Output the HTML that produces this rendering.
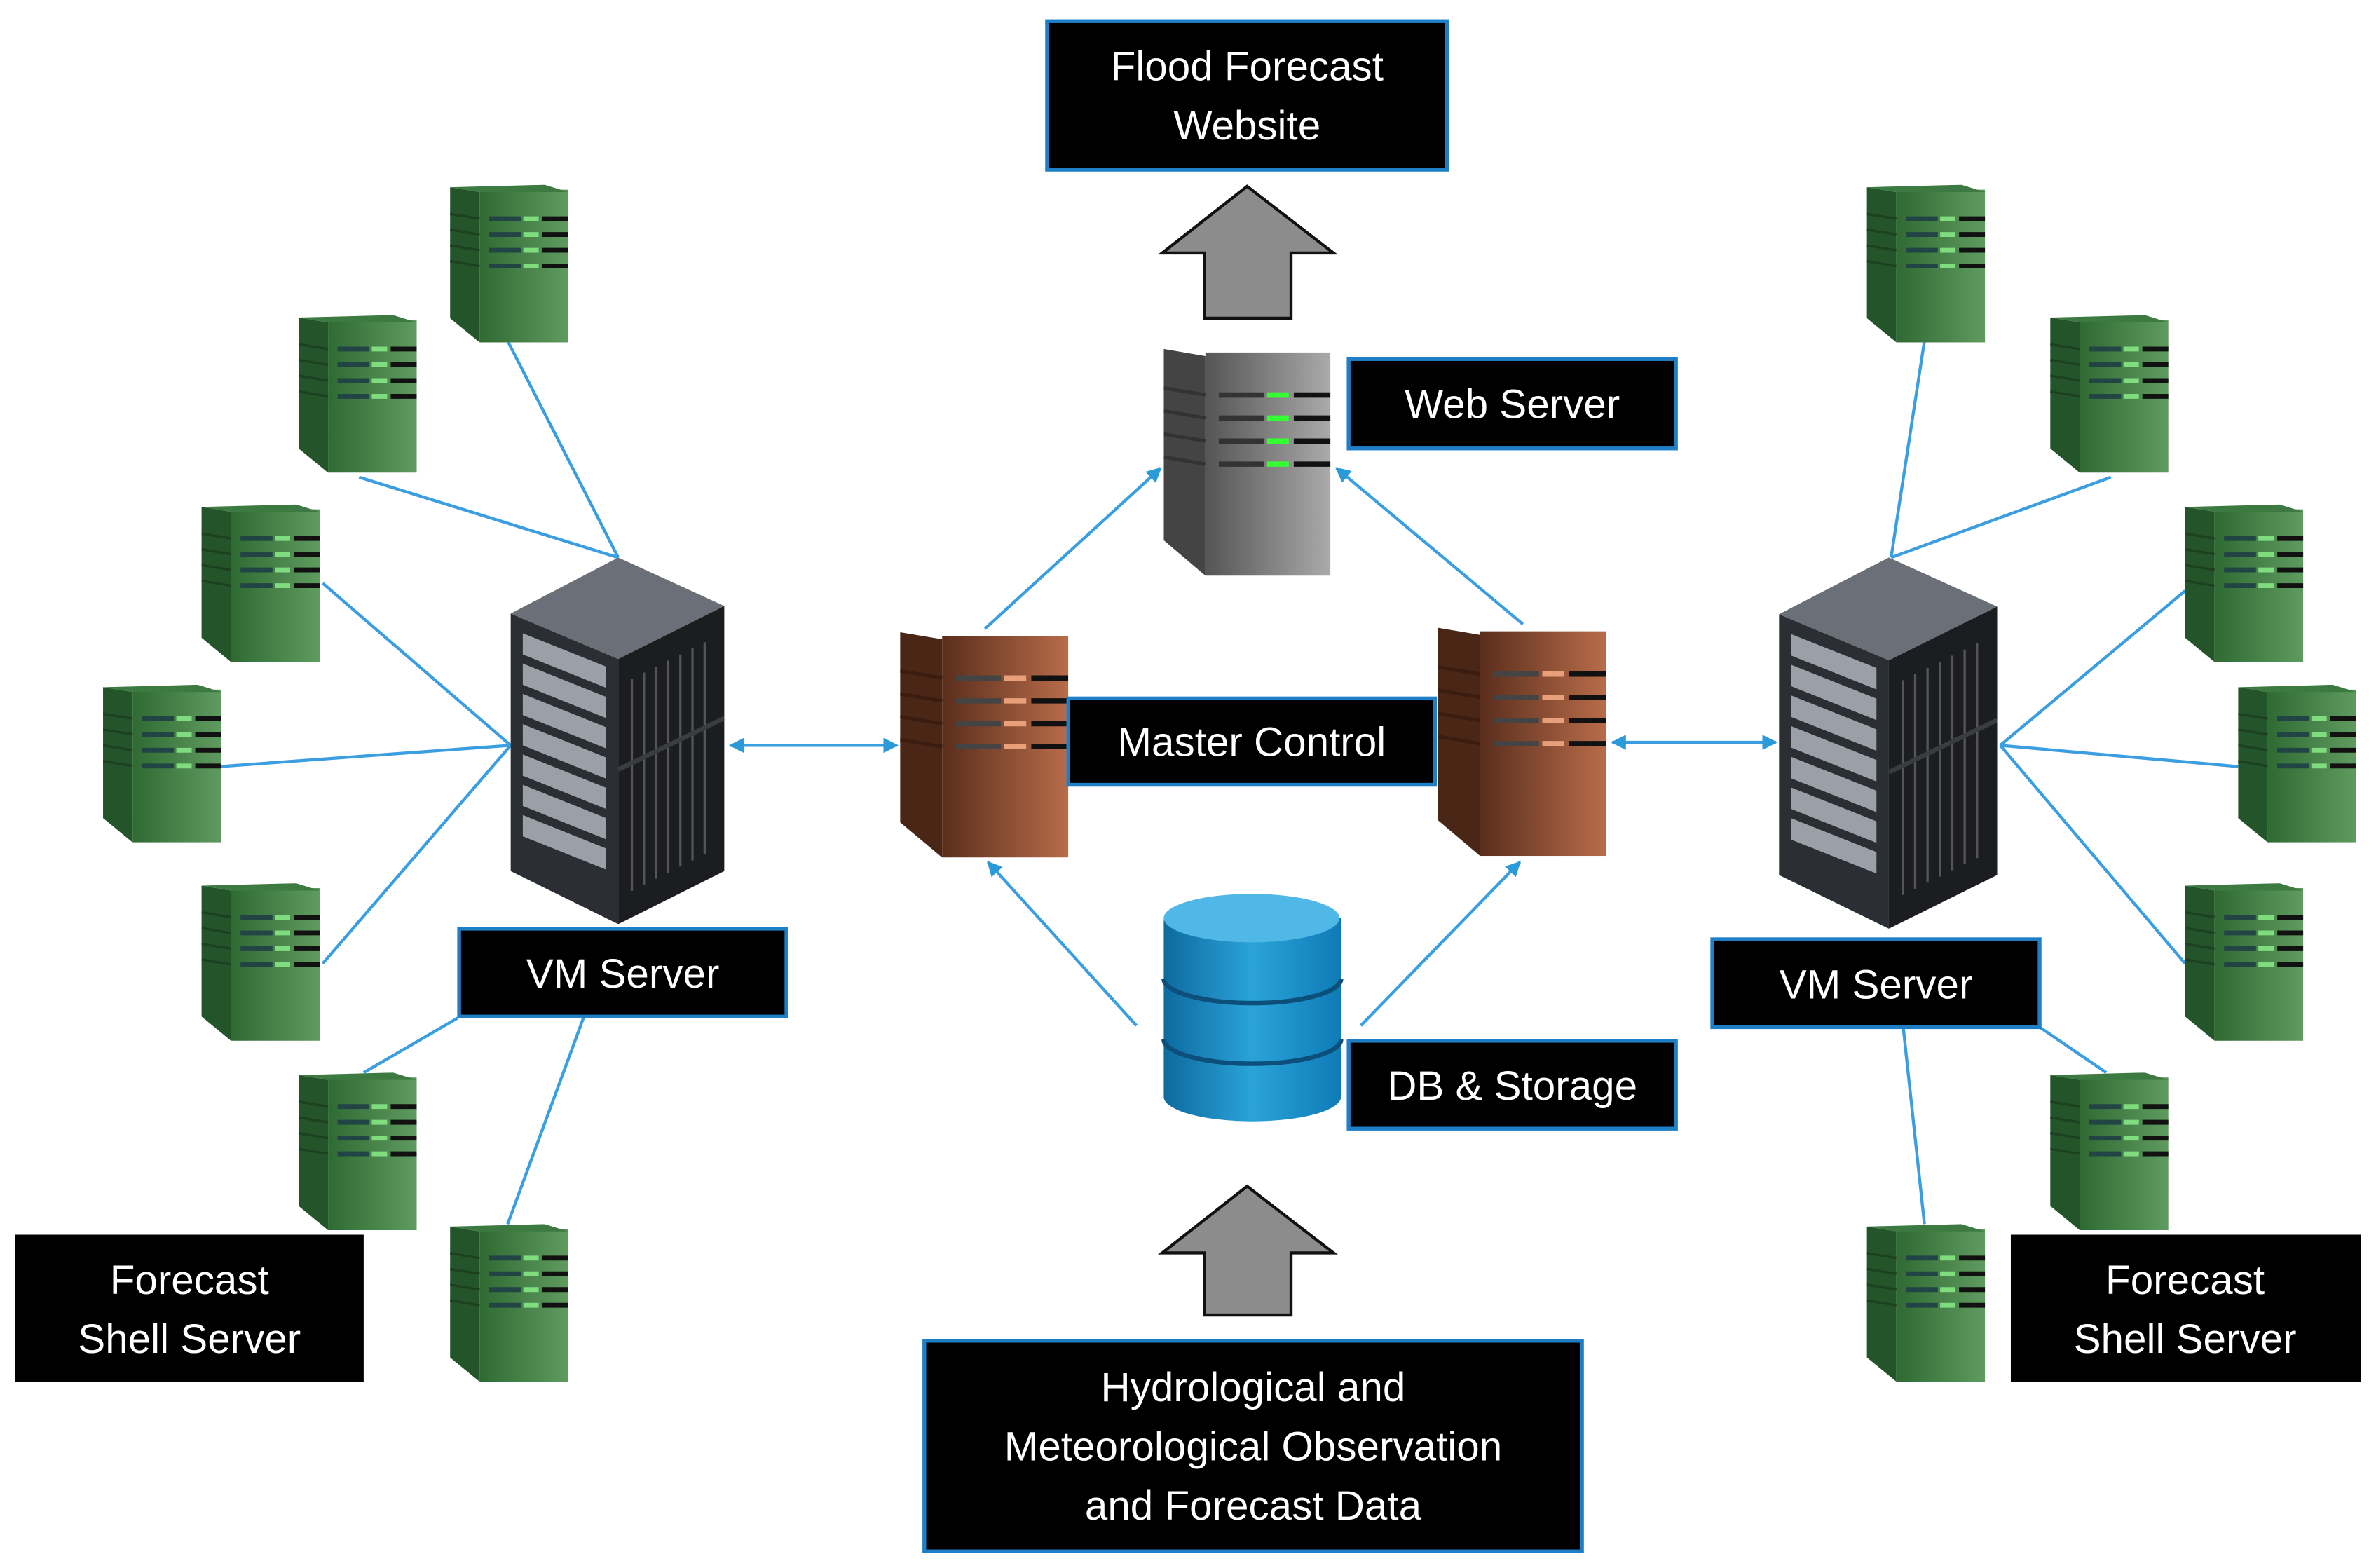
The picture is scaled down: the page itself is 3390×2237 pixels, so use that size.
<!DOCTYPE html>
<html><head><meta charset="utf-8"><style>
html,body{margin:0;padding:0;background:#fff}
svg{display:block}
text{font-family:"Liberation Sans",sans-serif;fill:#fff;font-size:27px}
</style></head><body>
<svg width="3390" height="2237" viewBox="0 0 1568 1035" preserveAspectRatio="none" xmlns="http://www.w3.org/2000/svg">
<defs>
<linearGradient id="gG" x1="0" x2="1"><stop offset="0" stop-color="#2f6a33"/><stop offset="1" stop-color="#5f9a5f"/></linearGradient>
<linearGradient id="gB" x1="0" x2="1"><stop offset="0" stop-color="#5a2e1c"/><stop offset="1" stop-color="#b86c4a"/></linearGradient>
<linearGradient id="gY" x1="0" x2="1"><stop offset="0" stop-color="#555"/><stop offset="1" stop-color="#aaa"/></linearGradient>
<linearGradient id="gD" x1="0" x2="1"><stop offset="0" stop-color="#0d6a9e"/><stop offset=".5" stop-color="#2aa3d9"/><stop offset="1" stop-color="#0f7bb6"/></linearGradient>
<symbol id="srvG" viewBox="0 0 100 130" preserveAspectRatio="none">
<polygon points="0,2 25,6 25,130 0,110" fill="#24552a"/>
<rect x="25" y="4" width="75" height="126" fill="url(#gG)"/>
<polygon points="0,2 80,0 100,6 25,6" fill="#3d7a41"/>
<g stroke-width="4"><path d="M33 28H60M33 41H60M33 54H60M33 67H60" stroke="#244"/><path d="M62 28H75M62 41H75M62 54H75M62 67H75" stroke="#7fdc7f"/><path d="M78 28H100M78 41H100M78 54H100M78 67H100" stroke="#111"/></g>
<path d="M0 24L25 28M0 37L25 41M0 50L25 54M0 63L25 67" stroke="#1c4020" stroke-width="2"/>
</symbol>
<symbol id="srvB" viewBox="0 0 100 130" preserveAspectRatio="none">
<polygon points="0,2 25,6 25,130 0,110" fill="#4a2616"/>
<rect x="25" y="4" width="75" height="126" fill="url(#gB)"/>
<g stroke-width="3"><path d="M33 28H60M33 41H60M33 54H60M33 67H60" stroke="#444"/><path d="M62 28H75M62 41H75M62 54H75M62 67H75" stroke="#e9a07a"/><path d="M78 28H100M78 41H100M78 54H100M78 67H100" stroke="#111"/></g>
<path d="M0 24L25 28M0 37L25 41M0 50L25 54M0 63L25 67" stroke="#3a1c10" stroke-width="2"/>
</symbol>
<symbol id="srvY" viewBox="0 0 100 130" preserveAspectRatio="none">
<polygon points="0,2 25,6 25,130 0,110" fill="#444"/>
<rect x="25" y="4" width="75" height="126" fill="url(#gY)"/>
<g stroke-width="3"><path d="M33 28H60M33 41H60M33 54H60M33 67H60" stroke="#333"/><path d="M62 28H75M62 41H75M62 54H75M62 67H75" stroke="#3f3"/><path d="M78 28H100M78 41H100M78 54H100M78 67H100" stroke="#111"/></g>
<path d="M0 24L25 28M0 37L25 41M0 50L25 54M0 63L25 67" stroke="#333" stroke-width="2"/>
</symbol>
<symbol id="vm" viewBox="0 0 141 242" preserveAspectRatio="none">
<polygon points="0,37 71,0 141,32 71,67" fill="#6b7078"/>
<polygon points="0,37 71,67 71,242 0,207" fill="#2b2e33"/>
<polygon points="71,67 141,32 141,207 71,242" fill="#1c1d20"/>
<g fill="#9aa0a8"><polygon points="8,50 63,72 63,86 8,64"/><polygon points="8,70 63,92 63,106 8,84"/><polygon points="8,90 63,112 63,126 8,104"/><polygon points="8,110 63,132 63,146 8,124"/><polygon points="8,130 63,152 63,166 8,144"/><polygon points="8,150 63,172 63,186 8,164"/><polygon points="8,170 63,192 63,206 8,184"/></g>
<g stroke="#555" stroke-width="1.5"><path d="M80 80V220M88 76V216M96 72V212M104 68V208M112 64V204M120 60V200M128 56V196"/></g>
<path d="M71 140L141 106" stroke="#3a3c40" stroke-width="3"/>
</symbol>
<marker id="ah" viewBox="0 0 10 10" refX="9" refY="5" markerWidth="5" markerHeight="5" orient="auto-start-reverse"><path d="M0 0L10 5L0 10z" fill="#2b9ad8"/></marker>
</defs>

<g stroke="#3a9ee0" stroke-width="2" fill="none">
<path d="M408 368L335 225M408 368L237 315M337 492L213 385M337 492L145 506M337 492L213 636M302 672L240 708M385 672L335 808"/>
<path d="M1248 368L1270 225M1248 368L1393 315M1320 492L1442 390M1320 492L1477 506M1320 492L1442 636M1346 678L1390 708M1256 678L1270 808"/>
<line x1="482" y1="492" x2="592" y2="492" marker-start="url(#ah)" marker-end="url(#ah)"/>
<line x1="1064" y1="490" x2="1172" y2="490" marker-start="url(#ah)" marker-end="url(#ah)"/>
<line x1="650" y1="415" x2="766" y2="309" marker-end="url(#ah)"/>
<line x1="1005" y1="412" x2="882" y2="309" marker-end="url(#ah)"/>
<line x1="750" y1="677" x2="652" y2="569" marker-end="url(#ah)"/>
<line x1="898" y1="677" x2="1003" y2="569" marker-end="url(#ah)"/>
</g>

<use href="#srvG" x="297" y="122" width="78" height="104"/>
<use href="#srvG" x="197" y="208" width="78" height="104"/>
<use href="#srvG" x="133" y="333" width="78" height="104"/>
<use href="#srvG" x="68" y="452" width="78" height="104"/>
<use href="#srvG" x="133" y="583" width="78" height="104"/>
<use href="#srvG" x="197" y="708" width="78" height="104"/>
<use href="#srvG" x="297" y="808" width="78" height="104"/>
<use href="#srvG" x="1232" y="122" width="78" height="104"/>
<use href="#srvG" x="1353" y="208" width="78" height="104"/>
<use href="#srvG" x="1442" y="333" width="78" height="104"/>
<use href="#srvG" x="1477" y="452" width="78" height="104"/>
<use href="#srvG" x="1442" y="583" width="78" height="104"/>
<use href="#srvG" x="1353" y="708" width="78" height="104"/>
<use href="#srvG" x="1232" y="808" width="78" height="104"/>

<use href="#srvB" x="594" y="415" width="111" height="151"/>
<use href="#srvB" x="949" y="412" width="111" height="153"/>
<use href="#srvY" x="768" y="228" width="110" height="152"/>
<use href="#vm" x="337" y="368" width="141" height="242"/>
<use href="#vm" x="1174" y="368" width="144" height="245"/>

<g>
<path d="M768 606V724A58 16 0 0 0 885 724V606Z" fill="url(#gD)"/>
<ellipse cx="826" cy="606" rx="58" ry="16" fill="#4fb8e6"/>
<path d="M768 646A58 16 0 0 0 885 646M768 686A58 16 0 0 0 885 686" stroke="#0b4f7a" stroke-width="3" fill="none"/>
</g>

<polygon points="767,167 823,123 880,167 852,167 852,210 795,210 795,167" fill="#8c8c8c" stroke="#111" stroke-width="2"/>
<polygon points="767,827 823,783 880,827 852,827 852,868 795,868 795,827" fill="#8c8c8c" stroke="#111" stroke-width="2"/>

<g stroke="#1f7fc6" stroke-width="2.5" fill="#000">
<rect x="691" y="14" width="264" height="98"/>
<rect x="890" y="237" width="216" height="59"/>
<rect x="705" y="461" width="242" height="57"/>
<rect x="303" y="613" width="216" height="58"/>
<rect x="1130" y="620" width="216" height="58"/>
<rect x="890" y="687" width="216" height="58"/>
<rect x="610" y="885" width="434" height="139"/>
</g>
<rect x="10" y="815" width="230" height="97" fill="#000"/>
<rect x="1327" y="815" width="231" height="97" fill="#000"/>
<g text-anchor="middle">
<text x="823" y="53">Flood Forecast</text><text x="823" y="92">Website</text>
<text x="998" y="276">Web Server</text>
<text x="826" y="499">Master Control</text>
<text x="411" y="652">VM Server</text>
<text x="1238" y="659">VM Server</text>
<text x="998" y="726">DB &amp; Storage</text>
<text x="125" y="854">Forecast</text><text x="125" y="893">Shell Server</text>
<text x="1442" y="854">Forecast</text><text x="1442" y="893">Shell Server</text>
<text x="827" y="925">Hydrological and</text>
<text x="827" y="964">Meteorological Observation</text>
<text x="827" y="1003">and Forecast Data</text>
</g>
</svg>
</body></html>
